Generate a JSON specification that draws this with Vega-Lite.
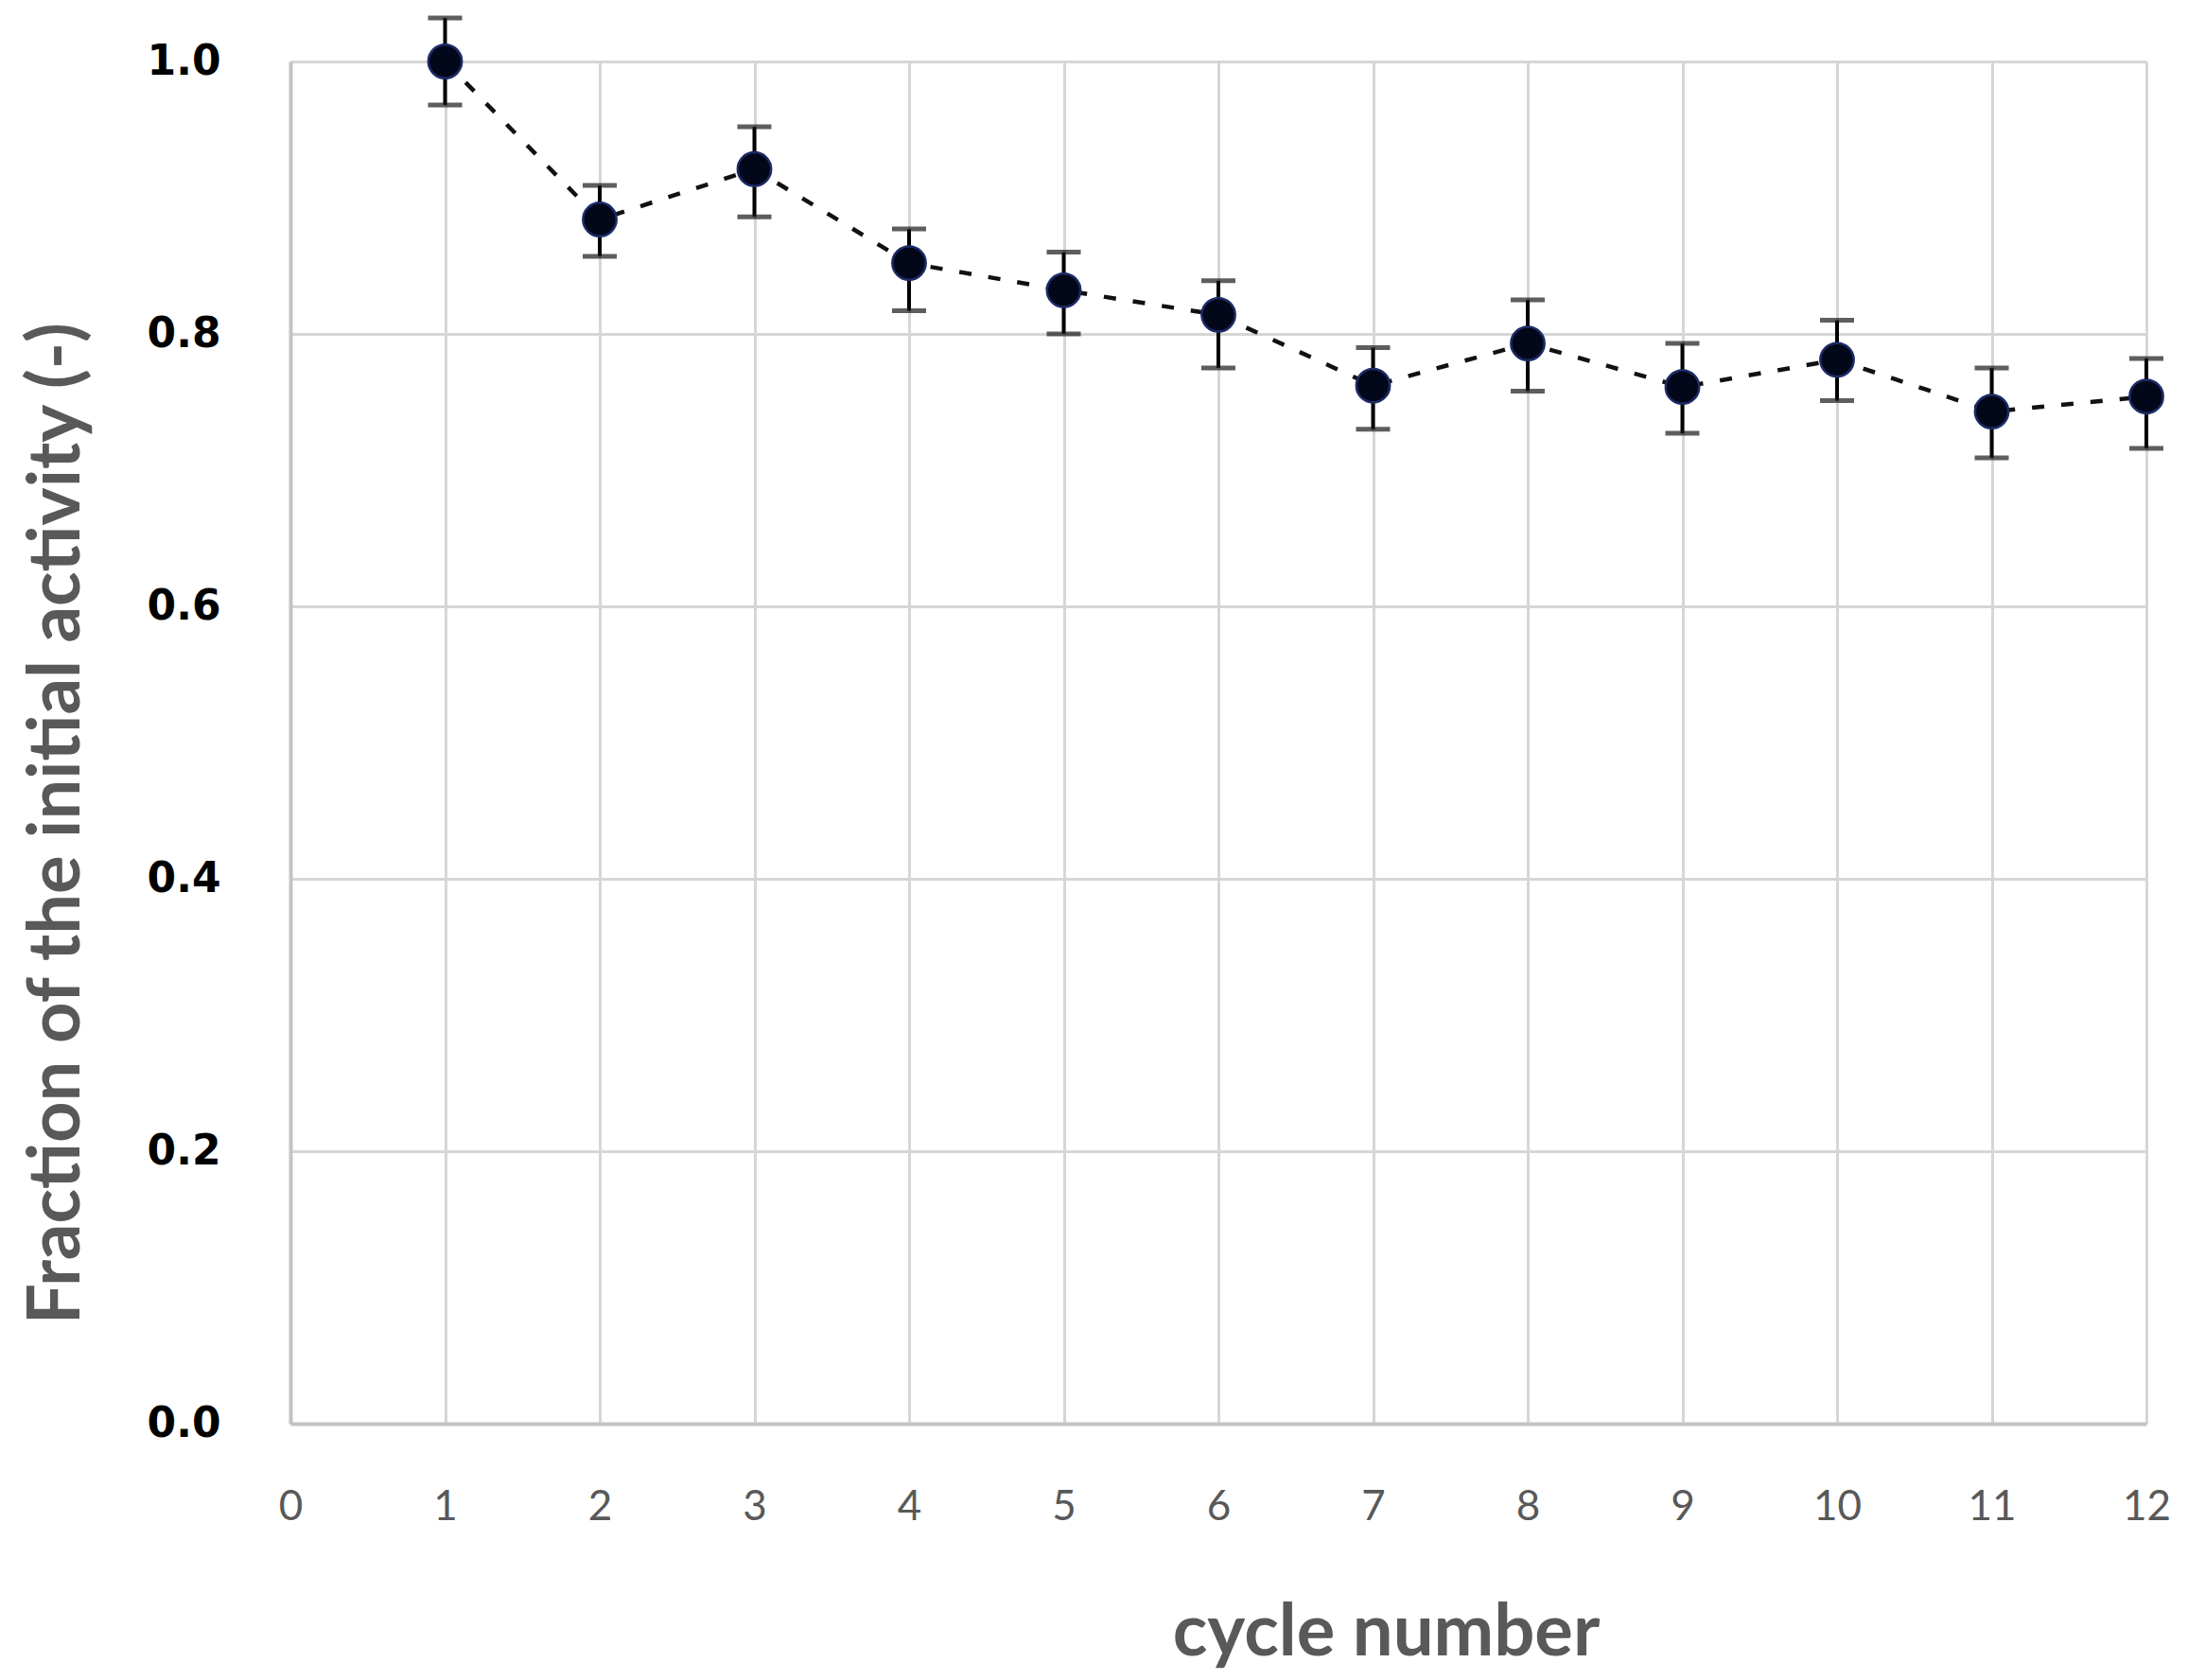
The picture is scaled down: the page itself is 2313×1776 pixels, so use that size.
{
  "$schema": "https://vega.github.io/schema/vega-lite/v6.json",
  "autosize": {"type": "none"},
  "width": 1962,
  "height": 1440,
  "padding": {"left": 307, "top": 65, "right": 44, "bottom": 271},
  "background": "white",
  "config": {"view": {"stroke": null}},
  "data": {"values": [
    {"cycle": 1, "mean": 1.000, "lo": 0.968, "hi": 1.032},
    {"cycle": 2, "mean": 0.884, "lo": 0.857, "hi": 0.909},
    {"cycle": 3, "mean": 0.921, "lo": 0.886, "hi": 0.952},
    {"cycle": 4, "mean": 0.852, "lo": 0.817, "hi": 0.877},
    {"cycle": 5, "mean": 0.832, "lo": 0.800, "hi": 0.860},
    {"cycle": 6, "mean": 0.814, "lo": 0.775, "hi": 0.839},
    {"cycle": 7, "mean": 0.762, "lo": 0.730, "hi": 0.790},
    {"cycle": 8, "mean": 0.793, "lo": 0.758, "hi": 0.825},
    {"cycle": 9, "mean": 0.761, "lo": 0.727, "hi": 0.793},
    {"cycle": 10, "mean": 0.781, "lo": 0.751, "hi": 0.810},
    {"cycle": 11, "mean": 0.743, "lo": 0.709, "hi": 0.775},
    {"cycle": 12, "mean": 0.754, "lo": 0.716, "hi": 0.782}
  ]},
  "layer": [
    {
      "mark": {"type": "line", "stroke": "#111111", "strokeWidth": 4.5, "strokeDash": [13, 18]},
      "encoding": {
        "x": {"field": "cycle", "type": "quantitative",
          "scale": {"domain": [0, 12], "nice": false, "zero": false},
          "axis": {
            "values": [0,1,2,3,4,5,6,7,8,9,10,11,12],
            "format": "d",
            "title": "cycle number",
            "ticks": false,
            "domainColor": "#c4c4c4", "domainWidth": 4,
            "grid": true, "gridColor": "#d6d6d6", "gridWidth": 3,
            "labelFont": "Lato", "labelFontSize": 44, "labelColor": "#595959",
            "labelBaseline": "middle", "labelPadding": 88,
            "labelFlush": false,
            "titleFont": "Lato", "titleFontSize": 76, "titleFontWeight": "bold", "titleColor": "#595959",
            "titleX": 1158, "titleY": 221, "titleBaseline": "middle", "titleAlign": "center"
          }},
        "y": {"field": "mean", "type": "quantitative",
          "scale": {"domain": [0, 1], "nice": false},
          "axis": {
            "values": [0, 0.2, 0.4, 0.6, 0.8, 1.0],
            "format": ".1f",
            "title": "Fraction of the initial activity (-)",
            "ticks": false,
            "domainColor": "#c4c4c4", "domainWidth": 4,
            "grid": true, "gridColor": "#d6d6d6", "gridWidth": 3,
            "labelFont": "DejaVu Sans", "labelFontSize": 44, "labelFontWeight": "bold", "labelColor": "#000000",
            "labelPadding": 74, "labelFlush": false,
            "titleFont": "Lato", "titleFontSize": 76, "titleFontWeight": "bold", "titleColor": "#595959",
            "titleX": -247, "titleY": 805, "titleBaseline": "middle", "titleAlign": "center", "titleAngle": -90
          }}
      }
    },
    {
      "mark": {"type": "rule", "color": "#000000", "strokeWidth": 4},
      "encoding": {
        "x": {"field": "cycle", "type": "quantitative"},
        "y": {"field": "lo", "type": "quantitative"},
        "y2": {"field": "hi"}
      }
    },
    {
      "mark": {"type": "tick", "orient": "horizontal", "color": "#1a1a1a", "size": 36, "thickness": 5},
      "encoding": {
        "x": {"field": "cycle", "type": "quantitative"},
        "y": {"field": "lo", "type": "quantitative"}
      }
    },
    {
      "mark": {"type": "tick", "orient": "horizontal", "color": "#1a1a1a", "size": 36, "thickness": 5},
      "encoding": {
        "x": {"field": "cycle", "type": "quantitative"},
        "y": {"field": "hi", "type": "quantitative"}
      }
    },
    {
      "mark": {"type": "point", "shape": "circle", "filled": true, "size": 1250, "fill": "#03071a", "stroke": "#1d2b66", "strokeWidth": 2.5, "opacity": 1},
      "encoding": {
        "x": {"field": "cycle", "type": "quantitative"},
        "y": {"field": "mean", "type": "quantitative"}
      }
    }
  ]
}
